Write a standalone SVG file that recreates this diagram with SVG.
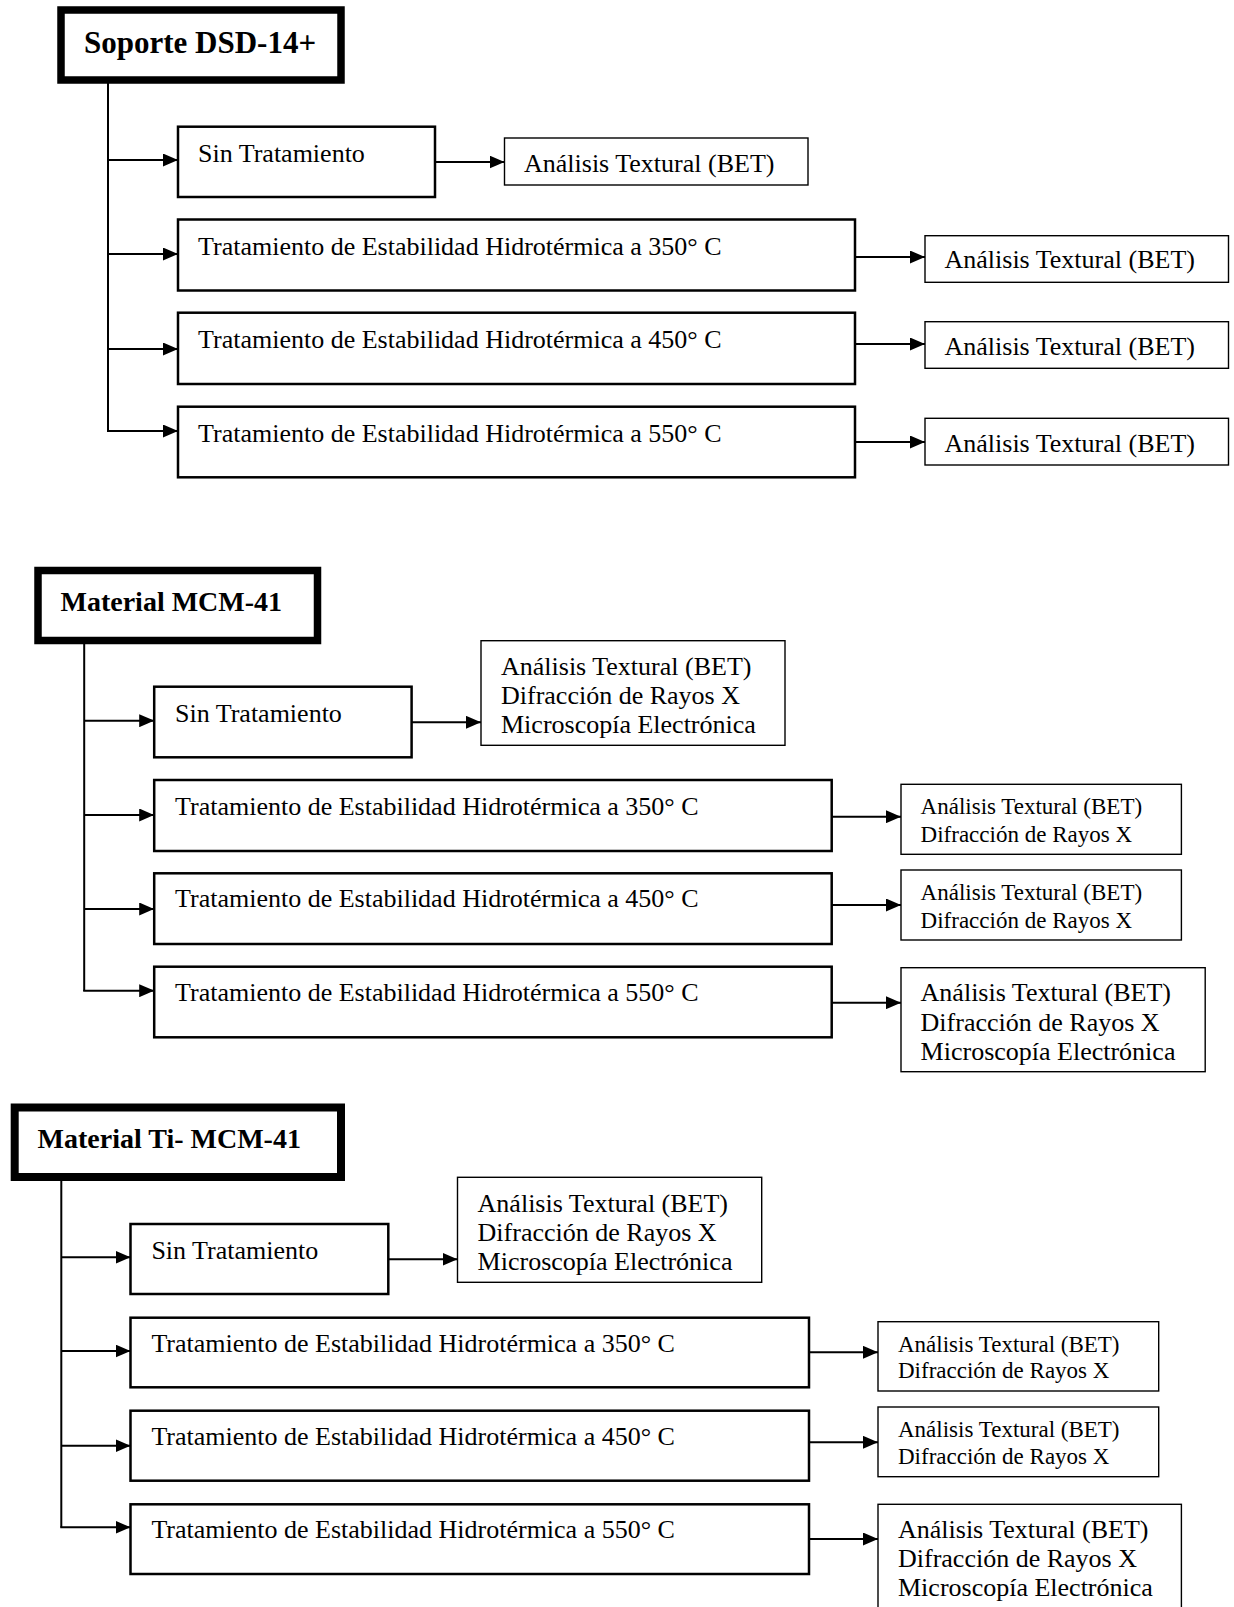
<svg xmlns="http://www.w3.org/2000/svg" width="1234" height="1607" viewBox="0 0 1234 1607">
<style>
  text { font-family: "Liberation Serif", "Times New Roman", serif; fill: #000; }
  .t { font-size: 26px; }
  .s { font-size: 23px; }
  .h { font-size: 28px; font-weight: bold; }
  .ttl { fill: #fff; stroke: #000; stroke-width: 7.5; }
  .box { fill: #fff; stroke: #000; stroke-width: 2.5; }
  .res { fill: #fff; stroke: #000; stroke-width: 1.4; }
  .ln { fill: none; stroke: #000; stroke-width: 2; }
  .ar { fill: none; stroke: #000; stroke-width: 2; marker-end: url(#ah); }
</style>
<defs>
  <marker id="ah" markerUnits="userSpaceOnUse" markerWidth="15" markerHeight="13" refX="15" refY="6.5" orient="auto">
    <path d="M0,0 L15,6.5 L0,13 Z" fill="#000"/>
  </marker>
</defs>
<rect width="1234" height="1607" fill="#fff"/>

<!-- connectors -->
<g id="connectors">
  <!-- section 1 -->
  <path class="ln" d="M108,83 V431"/>
  <path class="ar" d="M108,160 H178"/>
  <path class="ar" d="M108,254 H178"/>
  <path class="ar" d="M108,349 H178"/>
  <path class="ar" d="M107,431 H178"/>
  <path class="ar" d="M435,162 H504.5"/>
  <path class="ar" d="M855,257 H925"/>
  <path class="ar" d="M855,344 H925"/>
  <path class="ar" d="M855,442 H925"/>
  <!-- section 2 -->
  <path class="ln" d="M84.2,644 V991"/>
  <path class="ar" d="M84.2,720.7 H154.2"/>
  <path class="ar" d="M84.2,815 H154.2"/>
  <path class="ar" d="M84.2,909 H154.2"/>
  <path class="ar" d="M83.2,990.7 H154.2"/>
  <path class="ar" d="M411.6,722.3 H481"/>
  <path class="ar" d="M831.7,816.7 H901"/>
  <path class="ar" d="M831.7,905 H901"/>
  <path class="ar" d="M831.7,1002.7 H901"/>
  <!-- section 3 -->
  <path class="ln" d="M61.3,1181 V1527.5"/>
  <path class="ar" d="M61.3,1257.3 H130.5"/>
  <path class="ar" d="M61.3,1351 H130.5"/>
  <path class="ar" d="M61.3,1445.7 H130.5"/>
  <path class="ar" d="M60.3,1527.3 H130.5"/>
  <path class="ar" d="M388.3,1259.3 H457.5"/>
  <path class="ar" d="M809,1352.3 H878"/>
  <path class="ar" d="M809,1442.3 H878"/>
  <path class="ar" d="M809,1539 H878"/>
</g>

<!-- Section 1 -->
<g id="n1-title"><rect class="ttl" x="61" y="10" width="280" height="70"/><text class="h" x="84" y="53" style="font-size:31px">Soporte DSD-14+</text></g>
<g id="n1-sin"><rect class="box" x="178" y="126.7" width="257" height="70.3"/><text class="t" x="198" y="162">Sin Tratamiento</text></g>
<g id="n1-350"><rect class="box" x="178" y="219.5" width="677" height="71"/><text class="t" x="198" y="255">Tratamiento de Estabilidad Hidrotérmica a 350° C</text></g>
<g id="n1-450"><rect class="box" x="178" y="312.7" width="677" height="71.3"/><text class="t" x="198" y="348">Tratamiento de Estabilidad Hidrotérmica a 450° C</text></g>
<g id="n1-550"><rect class="box" x="178" y="406.7" width="677" height="70.6"/><text class="t" x="198" y="442">Tratamiento de Estabilidad Hidrotérmica a 550° C</text></g>
<g id="n1-r0"><rect class="res" x="504.5" y="138" width="303.5" height="47"/><text class="t" x="524" y="172">Análisis Textural (BET)</text></g>
<g id="n1-r1"><rect class="res" x="925" y="235.7" width="303.5" height="46.6"/><text class="t" x="944.5" y="268.3">Análisis Textural (BET)</text></g>
<g id="n1-r2"><rect class="res" x="925" y="321.7" width="303.5" height="46.6"/><text class="t" x="944.5" y="355">Análisis Textural (BET)</text></g>
<g id="n1-r3"><rect class="res" x="925" y="418.3" width="303.5" height="46.7"/><text class="t" x="944.5" y="451.7">Análisis Textural (BET)</text></g>

<!-- Section 2 -->
<g id="n2-title"><rect class="ttl" x="38" y="570.5" width="279.5" height="70"/><text class="h" x="60.5" y="611">Material MCM-41</text></g>
<g id="n2-sin"><rect class="box" x="154.2" y="686.7" width="257.4" height="70.6"/><text class="t" x="175" y="721.7">Sin Tratamiento</text></g>
<g id="n2-350"><rect class="box" x="154.2" y="780" width="677.5" height="71"/><text class="t" x="175" y="815">Tratamiento de Estabilidad Hidrotérmica a 350° C</text></g>
<g id="n2-450"><rect class="box" x="154.2" y="873.3" width="677.5" height="70.7"/><text class="t" x="175" y="907.3">Tratamiento de Estabilidad Hidrotérmica a 450° C</text></g>
<g id="n2-550"><rect class="box" x="154.2" y="966.7" width="677.5" height="70.6"/><text class="t" x="175" y="1000.7">Tratamiento de Estabilidad Hidrotérmica a 550° C</text></g>
<g id="n2-r0"><rect class="res" x="481" y="640.7" width="304" height="104.6"/>
  <text class="t" x="501" y="675">Análisis Textural (BET)</text>
  <text class="t" x="501" y="703.5">Difracción de Rayos X</text>
  <text class="t" x="501" y="733">Microscopía Electrónica</text></g>
<g id="n2-r1"><rect class="res" x="901" y="784.3" width="280.4" height="70"/>
  <text class="s" x="920.6" y="814.3">Análisis Textural (BET)</text>
  <text class="s" x="920.6" y="841.7">Difracción de Rayos X</text></g>
<g id="n2-r2"><rect class="res" x="901" y="870" width="280.4" height="70"/>
  <text class="s" x="920.6" y="900">Análisis Textural (BET)</text>
  <text class="s" x="920.6" y="928.3">Difracción de Rayos X</text></g>
<g id="n2-r3"><rect class="res" x="901" y="967.7" width="304.2" height="104"/>
  <text class="t" x="920.6" y="1001">Análisis Textural (BET)</text>
  <text class="t" x="920.6" y="1030.5">Difracción de Rayos X</text>
  <text class="t" x="920.6" y="1060">Microscopía Electrónica</text></g>

<!-- Section 3 -->
<g id="n3-title"><rect class="ttl" x="14.7" y="1107.5" width="326.3" height="69.5" style="stroke-width:8"/><text class="h" x="37.6" y="1148.3">Material Ti- MCM-41</text></g>
<g id="n3-sin"><rect class="box" x="130.5" y="1224" width="257.8" height="70"/><text class="t" x="151.4" y="1259">Sin Tratamiento</text></g>
<g id="n3-350"><rect class="box" x="130.5" y="1317.7" width="678.5" height="69.6"/><text class="t" x="151.4" y="1351.7">Tratamiento de Estabilidad Hidrotérmica a 350° C</text></g>
<g id="n3-450"><rect class="box" x="130.5" y="1410.7" width="678.5" height="70"/><text class="t" x="151.4" y="1445">Tratamiento de Estabilidad Hidrotérmica a 450° C</text></g>
<g id="n3-550"><rect class="box" x="130.5" y="1504.3" width="678.5" height="69.7"/><text class="t" x="151.4" y="1538.3">Tratamiento de Estabilidad Hidrotérmica a 550° C</text></g>
<g id="n3-r0"><rect class="res" x="457.5" y="1177.3" width="304.2" height="105"/>
  <text class="t" x="477.6" y="1211.7">Análisis Textural (BET)</text>
  <text class="t" x="477.6" y="1240.5">Difracción de Rayos X</text>
  <text class="t" x="477.6" y="1270">Microscopía Electrónica</text></g>
<g id="n3-r1"><rect class="res" x="878" y="1321.7" width="280.7" height="69.3"/>
  <text class="s" x="898" y="1351.7">Análisis Textural (BET)</text>
  <text class="s" x="898" y="1378.3">Difracción de Rayos X</text></g>
<g id="n3-r2"><rect class="res" x="878" y="1407" width="280.7" height="69.7"/>
  <text class="s" x="898" y="1437.3">Análisis Textural (BET)</text>
  <text class="s" x="898" y="1464">Difracción de Rayos X</text></g>
<g id="n3-r3"><rect class="res" x="878" y="1504.3" width="303.4" height="112"/>
  <text class="t" x="898" y="1538">Análisis Textural (BET)</text>
  <text class="t" x="898" y="1567">Difracción de Rayos X</text>
  <text class="t" x="898" y="1596">Microscopía Electrónica</text></g>
</svg>
